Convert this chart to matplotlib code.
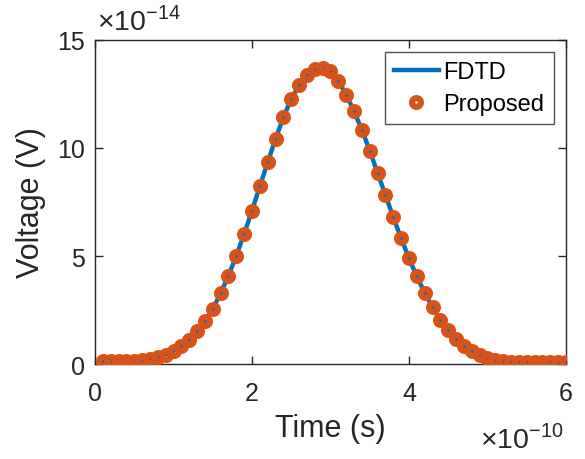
#!/usr/bin/env python3

# transient voltage at the load: FDTD reference vs. proposed method

import numpy as np
import matplotlib
matplotlib.use('Agg')
import matplotlib.pyplot as plt

matplotlib.rcParams['font.family'] = ['Liberation Sans', 'DejaVu Sans']
matplotlib.rcParams['mathtext.fontset'] = 'custom'
matplotlib.rcParams['mathtext.rm'] = 'Liberation Sans'

# time in units of 1e-10 s, voltage in units of 1e-14 V
t = np.round(np.arange(1, 61) * 0.1, 1)
v_fdtd = [0.12, 0.12, 0.13, 0.14, 0.16, 0.19, 0.24, 0.31, 0.44, 0.61,
          0.82, 1.13, 1.51, 1.98, 2.55, 3.27, 4.09, 5.01, 6.02, 7.10,
          8.23, 9.34, 10.42, 11.42, 12.27, 12.92, 13.39, 13.66, 13.69, 13.55,
          13.09, 12.47, 11.70, 10.83, 9.88, 8.84, 7.82, 6.79, 5.82, 4.89,
          4.06, 3.29, 2.62, 2.05, 1.57, 1.16, 0.85, 0.62, 0.43, 0.29,
          0.20, 0.14, 0.11, 0.10, 0.09, 0.09, 0.08, 0.08, 0.08, 0.08]
v_prop = list(v_fdtd)

xticks = [0, 2, 4, 6]
yticks = [0, 5, 10, 15]

blue = '#0072BD'
orange = '#D95319'
axcol = '#262626'

fig = plt.figure(figsize=(5.85, 4.6), dpi=100)
ax = fig.add_axes([0.1624, 0.2065, 0.8051, 0.7044])

ax.plot(t, v_fdtd, '-', color=blue, lw=3.2, label='FDTD', zorder=2)
ax.plot(t, v_prop, 'o', color=orange, mfc='none', mec=orange,
        ms=6.4, mew=4.4, label='Proposed', zorder=3)

ax.set_xlim(0, 6)
ax.set_ylim(0, 15)
ax.set_xticks(xticks)
ax.set_yticks(yticks)
ax.tick_params(direction='in', length=6, width=1, colors=axcol,
               labelsize=18, top=True, right=True)
ax.tick_params(axis='x', pad=12)
ax.tick_params(axis='y', pad=7)
for s in ax.spines.values():
    s.set_color(axcol)
    s.set_linewidth(1)

ax.set_xlabel('Time (s)', fontsize=22, color=axcol, labelpad=6)
ax.set_ylabel('Voltage (V)', fontsize=22, color=axcol, labelpad=8)

# exponent multipliers
fig.text(0.166, 0.922, r'$\times$10$^{\mathregular{-14}}$', fontsize=20.5,
         color=axcol, ha='left', va='bottom')
fig.text(0.964, 0.012, r'$\times$10$^{\mathregular{-10}}$', fontsize=20.5,
         color=axcol, ha='right', va='bottom')

leg = ax.legend(loc='upper right', fontsize=17, frameon=True, fancybox=False,
                edgecolor=axcol, borderpad=0.4, handlelength=1.9,
                handletextpad=0.2, labelspacing=0.4, borderaxespad=0,
                bbox_to_anchor=(0.9745, 0.963))
leg.get_frame().set_linewidth(1)

fig.savefig('out.png', dpi=100)
